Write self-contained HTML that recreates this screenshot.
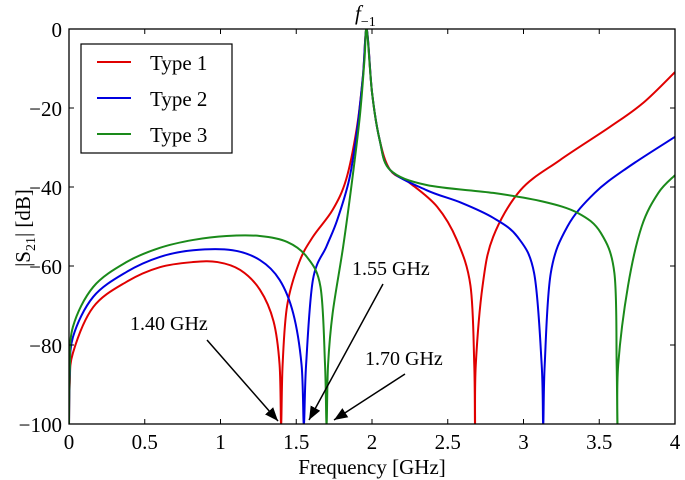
<!DOCTYPE html>
<html><head><meta charset="utf-8"><style>
body{margin:0;background:#fff}
svg{display:block;font-family:"Liberation Serif",serif}
</style></head><body>
<svg id="chart" width="685" height="480" viewBox="0 0 685 480" xmlns="http://www.w3.org/2000/svg">
<defs><clipPath id="clip"><rect x="69" y="29" width="606" height="395"/></clipPath>
<marker id="ah" viewBox="0 0 10 10" refX="10" refY="5" markerWidth="9" markerHeight="9" orient="auto"><path d="M0,1 L10,5 L0,9 z" fill="#000"/></marker></defs>
<g id="grid"></g>
<g id="series" clip-path="url(#clip)"></g>
<rect x="69" y="29" width="606" height="395" fill="none" stroke="#000" stroke-width="1.3"/>
<g id="ticks"></g>
<text x="372" y="474" font-size="21" text-anchor="middle">Frequency [GHz]</text>
<text transform="translate(30,228) rotate(-90)" font-size="21" text-anchor="middle">|S<tspan font-size="14" dy="5">21</tspan><tspan dy="-5">| [dB]</tspan></text>
<text x="355" y="20" font-size="21" font-style="italic">f<tspan font-size="14" font-style="normal" dy="6">−1</tspan></text>
<g>
<rect x="81" y="44" width="151" height="109" fill="#fff" stroke="#000" stroke-width="1.2"/>
<line x1="97" y1="62" x2="131" y2="62" stroke="#e00000" stroke-width="2"/><text x="150" y="70" font-size="21">Type 1</text>
<line x1="97" y1="98" x2="131" y2="98" stroke="#0000e0" stroke-width="2"/><text x="150" y="106" font-size="21">Type 2</text>
<line x1="97" y1="134" x2="131" y2="134" stroke="#1a8a1a" stroke-width="2"/><text x="150" y="142" font-size="21">Type 3</text>
</g>
<g font-size="20">
<text x="130" y="330">1.40 GHz</text>
<line x1="207" y1="340" x2="278" y2="421" stroke="#000" stroke-width="1.5" marker-end="url(#ah)"/>
<text x="352" y="275">1.55 GHz</text>
<line x1="383" y1="284" x2="309" y2="420" stroke="#000" stroke-width="1.5" marker-end="url(#ah)"/>
<text x="365" y="365">1.70 GHz</text>
<line x1="405" y1="374" x2="334" y2="420" stroke="#000" stroke-width="1.5" marker-end="url(#ah)"/>
</g>
</svg>
<script>
const xTicks=[0,0.5,1,1.5,2,2.5,3,3.5,4];
const yTicks=[0,-20,-40,-60,-80,-100];
const type1F=[0,0.005,0.026,0.16,0.38,0.6,0.82,0.98,1.13,1.26,1.35,1.39,1.40,1.41,1.44,1.52,1.61,1.74,1.83,1.9,1.94,1.965,2.0,2.05,2.12,2.25,2.43,2.56,2.65,2.675,2.68,2.685,2.73,2.8,2.98,3.24,3.57,3.79,4.0];
const type1D=[-100,-90,-82,-70.4,-64,-60.3,-59,-59,-61,-66,-74,-85,-100,-85,-70,-59,-52.6,-45.8,-38,-25,-12,0,-16,-28,-35.7,-39,-45,-53.4,-65,-85,-100,-85,-65,-52.6,-40.8,-33.2,-24.8,-18.7,-10.9];
const type2F=[0,0.005,0.026,0.16,0.38,0.6,0.82,1.08,1.26,1.39,1.48,1.535,1.55,1.565,1.61,1.70,1.77,1.85,1.9,1.94,1.965,2.0,2.05,2.12,2.36,2.59,2.8,2.96,3.07,3.12,3.13,3.14,3.18,3.29,3.47,3.69,4.0];
const type2D=[-100,-88,-78,-67.8,-61.5,-57.7,-56,-56,-58.5,-63.5,-72,-85,-100,-85,-63.5,-55,-48.4,-38,-26,-12,0,-16,-28,-35.7,-40.8,-44,-47.8,-52.6,-61.8,-85,-100,-85,-61.8,-50,-41.5,-35,-27.3];
const type3F=[0,0.005,0.026,0.16,0.38,0.6,0.82,1.04,1.26,1.44,1.57,1.66,1.69,1.70,1.71,1.74,1.81,1.87,1.92,1.95,1.965,2.0,2.05,2.12,2.36,2.8,3.13,3.36,3.51,3.6,3.615,3.62,3.625,3.69,3.78,3.89,4.0];
const type3D=[-100,-86,-75.4,-65.3,-59,-55.4,-53.4,-52.4,-52.4,-53.9,-57.7,-65.3,-85,-100,-85,-72,-55,-38,-22,-8,0,-16,-28,-35.7,-39.5,-41.5,-43.7,-46.6,-51.6,-61.8,-85,-100,-85,-65,-50,-41.5,-37];
const X0=69,X1=675,Y0=29,Y1=424;
const xs=f=>X0+(f-0)/(4-0)*(X1-X0);
const ys=d=>Y0+(0-d)/(0-(-100))*(Y1-Y0);
const NS="http://www.w3.org/2000/svg";
const tg=document.getElementById('ticks');
xTicks.forEach(t=>{
  const x=xs(t);
  const l1=document.createElementNS(NS,'path');
  
  
  l1.setAttribute('d',`M${x},${Y1}v-5M${x},${Y0}v5`);l1.setAttribute('stroke','#000');tg.appendChild(l1);
  const tx=document.createElementNS(NS,'text');
  
  
  tx.setAttribute('x',x);tx.setAttribute('y',449);tx.setAttribute('font-size','21');tx.setAttribute('text-anchor','middle');tx.textContent=String(t);tg.appendChild(tx);
});
yTicks.forEach(t=>{
  const y=ys(t);
  const l1=document.createElementNS(NS,'path');
  
  
  l1.setAttribute('d',`M${X0},${y}h5M${X1},${y}h-5`);l1.setAttribute('stroke','#000');tg.appendChild(l1);
  const tx=document.createElementNS(NS,'text');
  
  
  tx.setAttribute('x',62);tx.setAttribute('y',y+8);tx.setAttribute('font-size','21');tx.setAttribute('text-anchor','end');tx.textContent=(t<0?'−'+(-t):String(t));tg.appendChild(tx);
});
function path(F,D){
  const p=F.map((f,i)=>[xs(f),ys(D[i])]);
  let d=`M${p[0][0]},${p[0][1]}`;
  for(let i=0;i<p.length-1;i++){
    const a=p[i-1]||p[i],b=p[i],c=p[i+1],e=p[i+2]||c;
    const k=1/6;
    const c1=[b[0]+(c[0]-a[0])*k,b[1]+(c[1]-a[1])*k];
    const c2=[c[0]-(e[0]-b[0])*k,c[1]-(e[1]-b[1])*k];
    d+=`C${c1[0]},${c1[1]} ${c2[0]},${c2[1]} ${c[0]},${c[1]}`;
  }
  return d;
}
const sg=document.getElementById('series');
[[type1F,type1D,'#e00000','type-1-line'],[type2F,type2D,'#0000e0','type-2-line'],[type3F,type3D,'#1a8a1a','type-3-line']].forEach(s=>{
  const el=document.createElementNS(NS,'path');
  
  
  el.setAttribute('d',path(s[0],s[1]));el.setAttribute('fill','none');el.setAttribute('stroke',s[2]);el.setAttribute('stroke-width','2');
  sg.appendChild(el);
});
</script>
</body></html>
